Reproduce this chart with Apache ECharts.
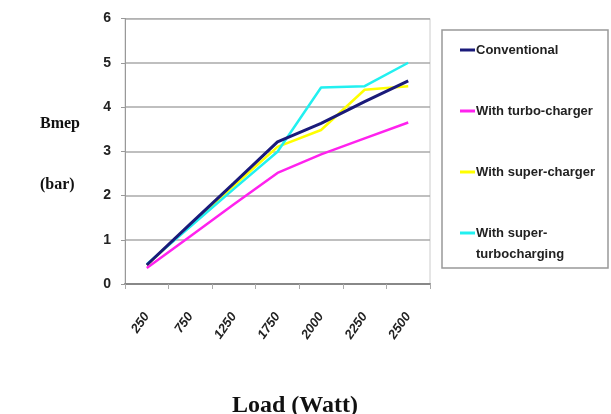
<!DOCTYPE html>
<html><head><meta charset="utf-8">
<script src="https://cdn.jsdelivr.net/npm/echarts@6/dist/echarts.min.js"></script>
<style>html,body{margin:0;padding:0;background:#fff}#c{width:611px;height:414px}</style>
</head><body><div id="c"></div>
<script>
const categories = ['250','750','1250','1750','2000','2250','2500'];
const conventional = [0.43, 1.36, 2.28, 3.21, 3.63, 4.12, 4.59];
const turbo = [0.36, 1.08, 1.80, 2.51, 2.93, 3.29, 3.65];
const superCharger = [0.43, 1.33, 2.22, 3.10, 3.48, 4.39, 4.47];
const superTurbo = [0.45, 1.30, 2.15, 2.99, 4.44, 4.47, 5.00];
const seriesNames = ['Conventional','With turbo-charger','With super-charger','With super-'];
const colors = ['#1a1a7a','#ff22ee','#ffff00','#22f0f0'];

const chart = echarts.init(document.getElementById('c'));
const dataSets = [conventional, turbo, superCharger, superTurbo];
const legendFont = 'Liberation Sans Narrow, Liberation Sans';
chart.setOption({
  animation:false,
  grid:{left:125, right:181, top:18.5, bottom:130, show:true, borderColor:'#cccccc', borderWidth:1},
  xAxis:{type:'category', data:categories, boundaryGap:true,
    axisLine:{lineStyle:{color:'#888', width:2}},
    axisTick:{show:true, length:5, lineStyle:{color:'#aaa'}},
    axisLabel:{rotate:55, color:'#222', fontSize:13, fontWeight:'bold', fontStyle:'italic', fontFamily:legendFont, margin:30}},
  yAxis:{type:'value', min:0, max:6, interval:1,
    axisLine:{show:true, lineStyle:{color:'#999', width:1}},
    axisTick:{show:true, length:4, lineStyle:{color:'#999'}},
    splitLine:{lineStyle:{color:'#aaaaaa', width:1.5}},
    axisLabel:{color:'#222', fontSize:14, fontWeight:'bold', fontFamily:legendFont, margin:14}},
  legend:{show:true, orient:'vertical', left:460, top:42, padding:0, itemGap:45, itemWidth:15, itemHeight:3, icon:'rect',
    data:seriesNames,
    textStyle:{fontSize:13, fontWeight:'bold', color:'#222', fontFamily:legendFont, padding:[0,0,0,-4], lineHeight:16}},
  graphic:[
    {type:'rect', shape:{x:442, y:30, width:166, height:238}, style:{fill:'none', stroke:'#999', lineWidth:1.5}},
    {type:'text', left:476, top:248, style:{text:'turbocharging', font:'bold 13px "Liberation Sans Narrow", "Liberation Sans"', fill:'#222'}},
    {type:'text', left:40, top:116, style:{text:'Bmep', font:'bold 16px "Liberation Serif"', fill:'#111'}},
    {type:'text', left:40, top:177, style:{text:'(bar)', font:'bold 16px "Liberation Serif"', fill:'#111'}},
    {type:'text', left:232, top:394, style:{text:'Load (Watt)', font:'bold 24px "Liberation Serif"', fill:'#111'}}
  ],
  series: dataSets.map((d,i)=>({name:seriesNames[i], type:'line', data:d, symbol:'none', z: i===0?5:3,
    lineStyle:{color:colors[i], width:i===0?3:2.5}, itemStyle:{color:colors[i]}}))
});
</script></body></html>
